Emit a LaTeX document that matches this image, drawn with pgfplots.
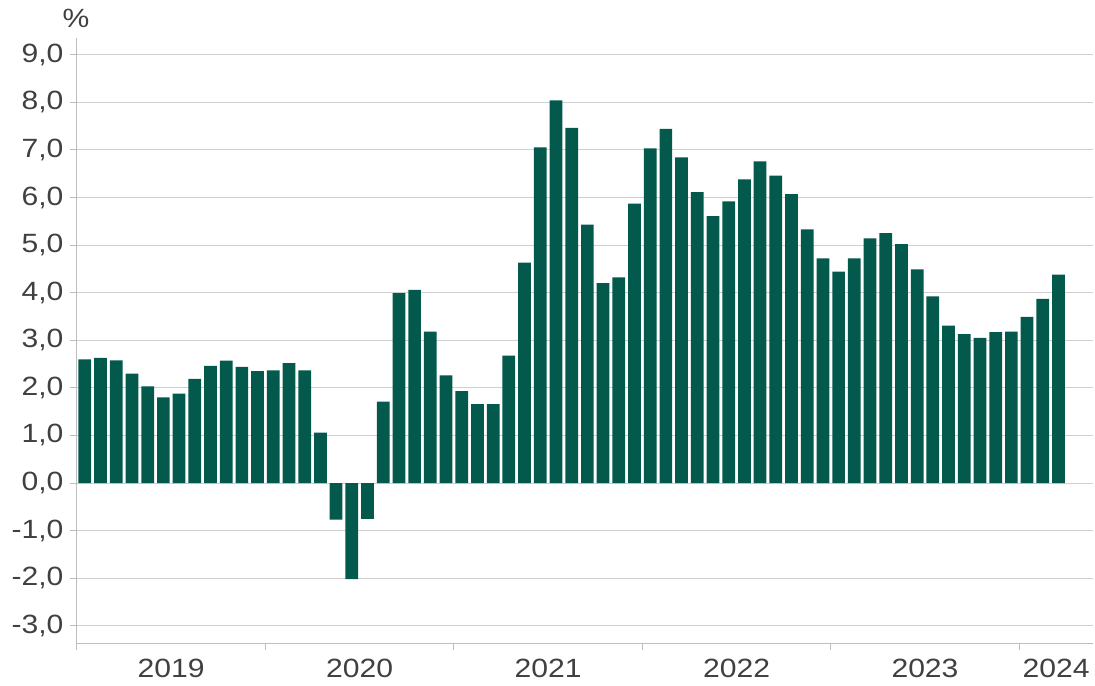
\documentclass[border=0pt]{standalone}
\usepackage{fontspec}
\setmainfont{Liberation Sans}[FakeStretch=1.14]
\usepackage{pgfplots}
\pgfplotsset{compat=1.18}
\definecolor{barc}{HTML}{02594C}
\definecolor{txt}{HTML}{404040}
\definecolor{gridc}{HTML}{D0D0D0}
\definecolor{axc}{HTML}{BDBDBD}
\begin{document}
\begin{tikzpicture}
\begin{axis}[
  at={(0,0)}, anchor=south west,
  scale only axis, width=1016bp, height=604.5bp,
  xmin=0.5, xmax=65.2, ymin=-3.36, ymax=9.34,
  axis x line*=bottom, axis y line*=left,
  axis line style={axc, line width=1bp},
  ytick={-3,-2,...,9},
  ymajorgrids, grid style={gridc, line width=1bp},
  xtick={6.5,18.5,30.5,42.5,54.5,62.85},
  xticklabels={2019,2020,2021,2022,2023,2024},
  minor xtick={0.5,12.5,24.5,36.5,48.5,60.5},
  major x tick style={draw=none},
  minor x tick style={axc, line width=1bp},
  ytick style={axc, line width=1bp},
  tick align=outside,
  major tick length=7bp, minor tick length=7bp,
  font=\fontsize{26.5}{30}\selectfont,
  ticklabel style={text=txt},
  /pgf/number format/assume math mode=true,
  yticklabel style={xshift=-3bp, /pgf/number format/.cd, fixed, fixed zerofill, precision=1, use comma},
  xticklabel style={yshift=-6bp},
  clip=false,
]
\addplot[ybar, bar width=0.81, fill=barc, draw=none] coordinates {
(1,2.60) (2,2.63) (3,2.58) (4,2.30) (5,2.03) (6,1.80) (7,1.88) (8,2.19) (9,2.46) (10,2.57)
(11,2.44) (12,2.35) (13,2.37) (14,2.52) (15,2.37) (16,1.06) (17,-0.77) (18,-2.02) (19,-0.75) (20,1.71)
(21,3.99) (22,4.06) (23,3.18) (24,2.26) (25,1.93) (26,1.66) (27,1.66) (28,2.68) (29,4.63) (30,7.05)
(31,8.04) (32,7.46) (33,5.43) (34,4.20) (35,4.32) (36,5.87) (37,7.03) (38,7.44) (39,6.84) (40,6.11)
(41,5.61) (42,5.92) (43,6.38) (44,6.76) (45,6.46) (46,6.07) (47,5.33) (48,4.72) (49,4.44) (50,4.72)
(51,5.14) (52,5.25) (53,5.02) (54,4.49) (55,3.92) (56,3.31) (57,3.13) (58,3.05) (59,3.17) (60,3.18)
(61,3.49) (62,3.87) (63,4.38)
};
\end{axis}
\node[anchor=base, inner sep=0pt, text=txt, font=\fontsize{26.5}{30}\selectfont] at (-1bp, 615bp) {\%};
\pgfresetboundingbox
\path[use as bounding box] (-77bp,-43bp) rectangle (1018bp,643bp);
\end{tikzpicture}
\end{document}
